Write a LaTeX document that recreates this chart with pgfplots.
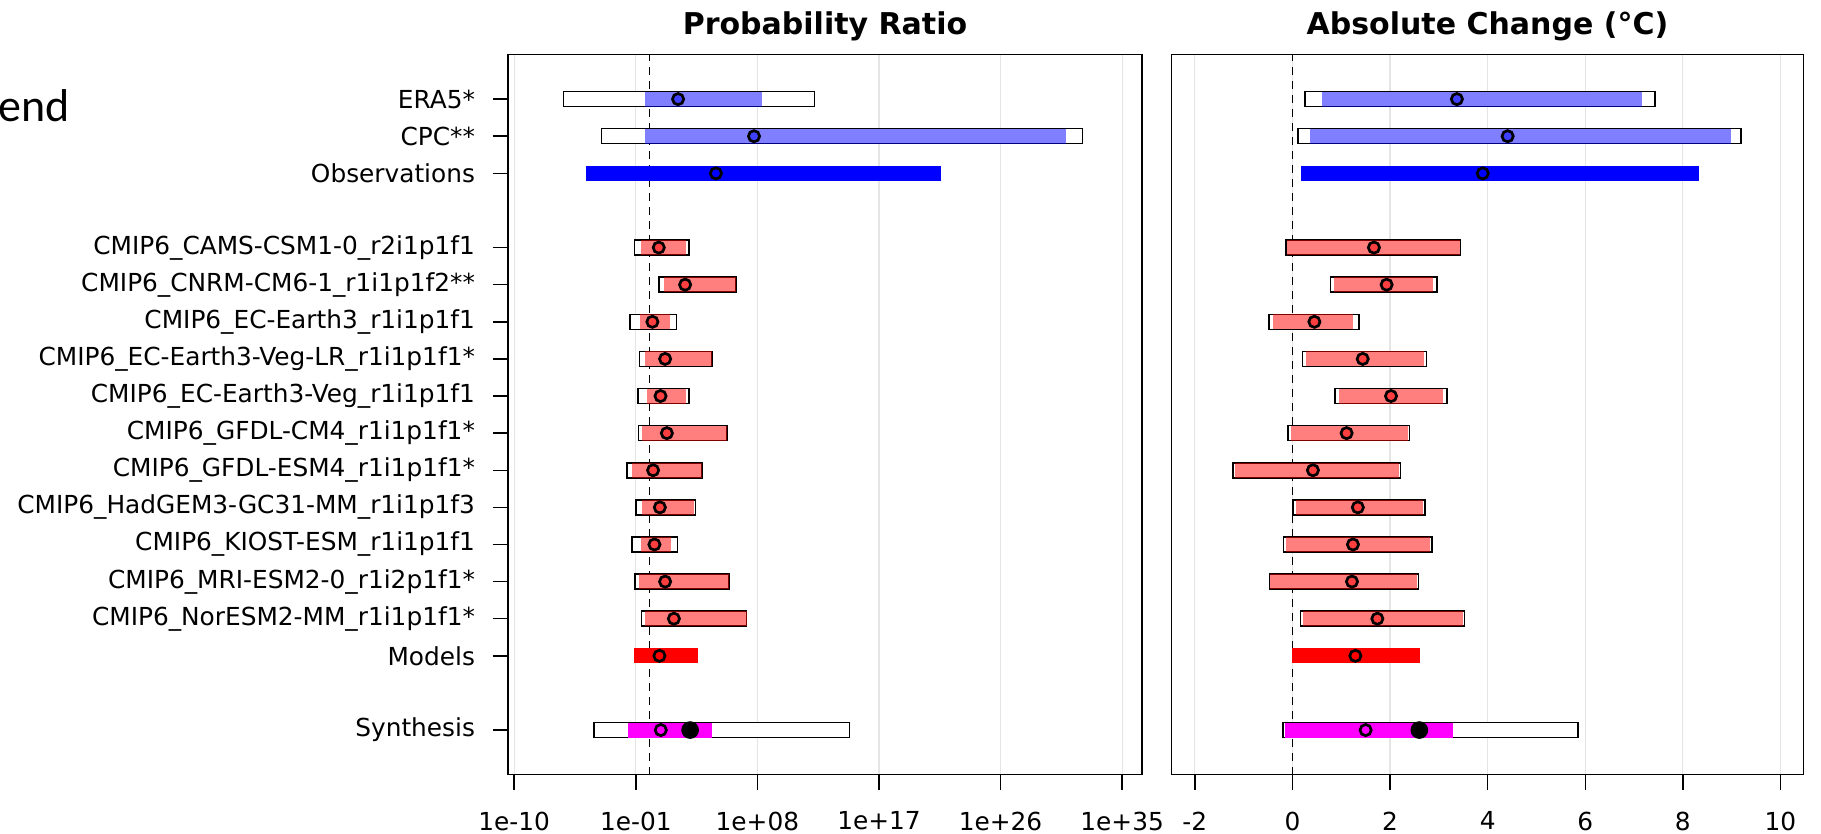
\documentclass[border=0pt]{standalone}
\usepackage{pgfplots}
\pgfplotsset{compat=1.18}
\usepackage{pgfplotstable}
\usepackage{fontspec}
\setmainfont{DejaVu Sans}
\newfontfamily\carlito{Carlito}
\definecolor{rblue}{RGB}{0,0,255}
\definecolor{rred}{RGB}{255,0,0}
\definecolor{rmag}{RGB}{255,0,255}

% ---------- Probability ratio (values are log10 of the ratio) ----------
\pgfplotstableread{
y lo hi
17 -6.41 12.27
16 -3.61 32.13
13 -1.15 3.00
12 0.65 6.48
11 -1.49 2.06
10 -0.80 4.68
9 -0.90 3.00
8 -0.85 5.79
7 -1.69 3.94
6 -1.05 3.49
5 -1.35 2.16
4 -1.12 5.96
3 -0.63 7.26
0 -4.16 14.87
}\PRouter
\pgfplotstableread{
y lo hi best
17 -0.33 8.33 2.13
16 -0.33 30.84 7.75
}\PRobsI
\pgfplotstableread{
y lo hi best
15 -4.72 21.57 4.93
}\PRobs
\pgfplotstableread{
y lo hi best
13 -0.61 2.70 0.70
12 1.10 6.41 2.65
11 -0.70 1.52 0.23
10 -0.31 4.63 1.17
9 -0.16 2.70 0.83
8 -0.51 5.74 1.30
7 -1.25 3.89 0.28
6 -0.51 3.30 0.78
5 -0.61 1.59 0.38
4 -0.75 5.91 1.17
3 -0.33 7.26 1.82
}\PRmodI
\pgfplotstableread{
y lo hi best
2 -1.16 3.64 0.75
}\PRmod
\pgfplotstableread{
y lo hi best dot
0 -1.56 4.62 0.85 3.02
}\PRsyn

% ---------- Absolute change (degC) ----------
\pgfplotstableread{
y lo hi
17 0.24 7.44
16 0.10 9.21
13 -0.15 3.46
12 0.77 2.98
11 -0.50 1.38
10 0.19 2.76
9 0.86 3.18
8 -0.11 2.41
7 -1.23 2.23
6 0.00 2.73
5 -0.20 2.87
4 -0.49 2.60
3 0.15 3.54
0 -0.21 5.87
}\ACouter
\pgfplotstableread{
y lo hi best
17 0.61 7.17 3.37
16 0.36 8.98 4.41
}\ACobsI
\pgfplotstableread{
y lo hi best
15 0.17 8.34 3.90
}\ACobs
\pgfplotstableread{
y lo hi best
13 -0.11 3.43 1.67
12 0.86 2.87 1.93
11 -0.39 1.24 0.45
10 0.27 2.70 1.44
9 0.95 3.09 2.02
8 -0.02 2.36 1.11
7 -1.18 2.19 0.42
6 0.07 2.68 1.34
5 -0.14 2.82 1.24
4 -0.45 2.55 1.22
3 0.22 3.49 1.74
}\ACmodI
\pgfplotstableread{
y lo hi best
2 0.00 2.61 1.29
}\ACmod
\pgfplotstableread{
y lo hi best dot
0 -0.15 3.30 1.50 2.60
}\ACsyn

\pgfplotsset{
  range/.style n args={3}{draw=none, mark=none, forget plot,
    error bars/.cd, x dir=both, x explicit, error mark=none,
    error bar style={draw=#1, draw opacity=#2, line width=#3, line cap=butt, solid}},
  panel/.style={
    scale only axis, height=360pt, ymin=-1.2, ymax=18.2,
    axis line style={black, line width=0.75pt},
    xmajorgrids, major grid style={black!10, line width=0.6pt},
    tick align=outside, major tick length=7.5pt, tick pos=left,
    every tick/.style={black, line width=0.75pt},
    tick label style={font=\fontsize{12.4}{14}\selectfont, black},
    xticklabel style={yshift=-7.5pt},
    yticklabel style={xshift=-5.5pt},
    title style={font=\bfseries\fontsize{15}{18}\selectfont, at={(0.5,1)}, anchor=base, yshift=4pt},
  },
}
\newcommand\rangeplot[4]{%
  \addplot[range={#2}{#3}{#4}] table[x expr={(\thisrow{lo}+\thisrow{hi})/2}, y=y, x error expr={(\thisrow{hi}-\thisrow{lo})/2}]{#1};}
\newcommand\boxplot[2]{%
  \addplot[range={black}{1}{8.25pt}] table[x expr={(\thisrow{lo}+\thisrow{hi})/2}, y=y, x error expr={(\thisrow{hi}-\thisrow{lo})/2}]{#1};
  \addplot[range={white}{1}{6.75pt}] table[x expr={(\thisrow{lo}+\thisrow{hi})/2}, y=y, x error expr={(\thisrow{hi}-\thisrow{lo})/2-#2}]{#1};}
\newcommand\bestplot[2]{%
  \addplot[only marks, mark=*, mark size=2.8pt, forget plot,
    mark options={draw=black, line width=1.35pt, fill=#2, fill opacity=0.5}] table[x=best, y=y]{#1};}

\begin{document}
\begin{tikzpicture}
\useasboundingbox (0pt,0pt) rectangle (910.5pt,417pt);
\node[anchor=base west, font=\carlito\fontsize{23}{27}\selectfont, inner sep=0pt] at (-1pt,356pt) {end};

\begin{axis}[panel, at={(254pt,29.7pt)}, anchor=south west, width=317pt,
  xmin=-10.46, xmax=36.47,
  xtick={-10,-1,8,17,26,35},
  xticklabels={1e-10,1e-01,1e+08,1e+17,1e+26,1e+35},
  ytick={0,2,3,4,5,6,7,8,9,10,11,12,13,15,16,17},
  yticklabels={Synthesis,Models,CMIP6\_NorESM2-MM\_r1i1p1f1*,CMIP6\_MRI-ESM2-0\_r1i2p1f1*,CMIP6\_KIOST-ESM\_r1i1p1f1,CMIP6\_HadGEM3-GC31-MM\_r1i1p1f3,CMIP6\_GFDL-ESM4\_r1i1p1f1*,CMIP6\_GFDL-CM4\_r1i1p1f1*,CMIP6\_EC-Earth3-Veg\_r1i1p1f1,CMIP6\_EC-Earth3-Veg-LR\_r1i1p1f1*,CMIP6\_EC-Earth3\_r1i1p1f1,CMIP6\_CNRM-CM6-1\_r1i1p1f2**,CMIP6\_CAMS-CSM1-0\_r2i1p1f1,Observations,CPC**,ERA5*},
  title={Probability Ratio}]
\addplot[black, line width=0.75pt, dash pattern=on 4pt off 3pt, forget plot] coordinates {(0,-1.2) (0,18.2)};
\boxplot{\PRouter}{0.11}
\rangeplot{\PRobsI}{rblue}{0.5}{7.5pt}
\rangeplot{\PRobs}{rblue}{1}{7.5pt}
\rangeplot{\PRmodI}{rred}{0.5}{7.5pt}
\rangeplot{\PRmod}{rred}{1}{7.5pt}
\rangeplot{\PRsyn}{rmag}{1}{7.5pt}
\bestplot{\PRobsI}{rblue}
\bestplot{\PRobs}{rblue}
\bestplot{\PRmodI}{rred}
\bestplot{\PRmod}{rred}
\bestplot{\PRsyn}{rmag}
\addplot[only marks, mark=*, mark size=4.2pt, black] table[x=dot, y=y]{\PRsyn};
\end{axis}

\begin{axis}[panel, at={(585.7pt,29.7pt)}, anchor=south west, width=316pt,
  xmin=-2.48, xmax=10.47,
  xtick={-2,0,2,4,6,8,10},
  xticklabels={-2,0,2,4,6,8,10},
  ytick=\empty,
  title={Absolute Change (°C)}]
\addplot[black, line width=0.75pt, dash pattern=on 4pt off 3pt, forget plot] coordinates {(0,-1.2) (0,18.2)};
\boxplot{\ACouter}{0.03}
\rangeplot{\ACobsI}{rblue}{0.5}{7.5pt}
\rangeplot{\ACobs}{rblue}{1}{7.5pt}
\rangeplot{\ACmodI}{rred}{0.5}{7.5pt}
\rangeplot{\ACmod}{rred}{1}{7.5pt}
\rangeplot{\ACsyn}{rmag}{1}{7.5pt}
\bestplot{\ACobsI}{rblue}
\bestplot{\ACobs}{rblue}
\bestplot{\ACmodI}{rred}
\bestplot{\ACmod}{rred}
\bestplot{\ACsyn}{rmag}
\addplot[only marks, mark=*, mark size=4.2pt, black] table[x=dot, y=y]{\ACsyn};
\end{axis}
\end{tikzpicture}
\end{document}
